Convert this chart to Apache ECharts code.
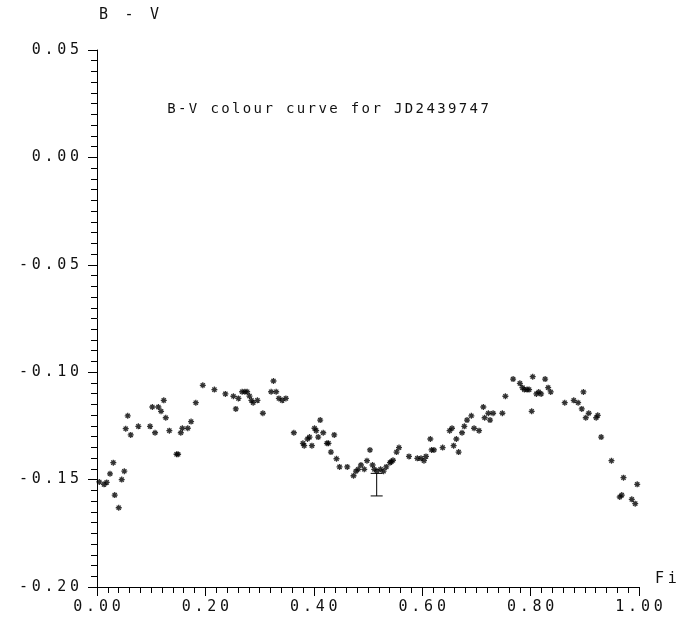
<!DOCTYPE html>
<html>
<head>
<meta charset="utf-8">
<script src="https://cdn.jsdelivr.net/npm/echarts@6/dist/echarts.min.js"></script>
<style>html,body{margin:0;padding:0;background:#fff;}#c{width:696px;height:622px;}</style>
</head>
<body>
<div id="c"></div>
<script>
// ---- data ----
const phase = [
0.0042,0.0129,0.0179,0.0240,0.0301,0.0327,0.0401,0.0456,0.0504,0.0530,0.0567,0.0622,0.0763,0.0979,
0.1021,0.1071,0.1132,0.1182,0.1232,0.1269,0.1335,0.1468,0.1496,0.1546,0.1575,0.1675,0.1736,0.1823,0.1952,
0.2166,0.2369,0.2517,0.2561,0.2609,0.2678,0.2728,0.2770,0.2813,0.2849,0.2881,0.2960,
0.3060,0.3213,0.3256,0.3306,0.3356,0.3416,0.3485,0.3632,0.3799,0.3823,0.3884,0.3921,0.3965,
0.4013,0.4044,0.4081,0.4118,0.4174,0.4242,0.4271,0.4316,0.4377,0.4419,0.4475,0.4617,0.4733,0.4778,0.4820,0.4870,0.4931,0.4981,
0.5036,0.5084,0.5115,0.5165,0.5232,0.5287,0.5337,0.5405,0.5429,0.5461,0.5527,0.5572,0.5756,0.5910,0.5978,
0.6033,0.6070,0.6150,0.6173,0.6218,0.6377,0.6506,0.6550,0.6580,0.6630,0.6672,0.6735,0.6777,0.6827,0.6907,0.6957,
0.7049,0.7128,0.7152,0.7221,0.7252,0.7308,0.7479,0.7535,0.7677,0.7802,0.7849,0.7886,0.7935,0.7972,
0.8020,0.8039,0.8107,0.8150,0.8194,0.8268,0.8324,0.8371,0.8630,0.8796,0.8877,0.8944,0.8975,
0.9018,0.9073,0.9210,0.9239,0.9302,0.9492,0.9645,0.9682,0.9714,0.9867,0.9930,0.9967
];
const bv = [
-0.1511,-0.1522,-0.1513,-0.1473,-0.1421,-0.1572,-0.1631,-0.1500,-0.1461,-0.1263,-0.1203,-0.1292,-0.1252,-0.1252,
-0.1162,-0.1282,-0.1162,-0.1182,-0.1131,-0.1212,-0.1272,-0.1382,-0.1382,-0.1282,-0.1261,-0.1261,-0.1230,-0.1142,-0.1061,
-0.1081,-0.1101,-0.1112,-0.1171,-0.1122,-0.1091,-0.1091,-0.1091,-0.1111,-0.1131,-0.1142,-0.1131,
-0.1191,-0.1091,-0.1041,-0.1091,-0.1122,-0.1131,-0.1122,-0.1282,-0.1331,-0.1342,-0.1311,-0.1302,-0.1342,
-0.1261,-0.1272,-0.1302,-0.1223,-0.1282,-0.1331,-0.1331,-0.1372,-0.1292,-0.1403,-0.1441,-0.1441,-0.1482,-0.1461,-0.1452,-0.1432,-0.1452,-0.1412,
-0.1362,-0.1432,-0.1452,-0.1460,-0.1452,-0.1461,-0.1441,-0.1421,-0.1417,-0.1410,-0.1372,-0.1351,-0.1392,-0.1401,-0.1401,
-0.1412,-0.1392,-0.1311,-0.1362,-0.1362,-0.1351,-0.1272,-0.1261,-0.1342,-0.1311,-0.1372,-0.1282,-0.1252,-0.1223,-0.1203,-0.1261,
-0.1272,-0.1162,-0.1212,-0.1191,-0.1223,-0.1191,-0.1191,-0.1112,-0.1032,-0.1052,-0.1072,-0.1081,-0.1081,-0.1081,
-0.1182,-0.1021,-0.1101,-0.1092,-0.1101,-0.1032,-0.1072,-0.1092,-0.1142,-0.1131,-0.1142,-0.1171,-0.1092,
-0.1212,-0.1191,-0.1212,-0.1201,-0.1302,-0.1412,-0.1581,-0.1572,-0.1491,-0.1592,-0.1612,-0.1522
];
// error bar: [phase, low, high]
const errorBar = [[0.516, -0.1576, -0.1471]];
const xTickLabels = ['0.00','0.20','0.40','0.60','0.80','1.00'];
const yTickLabels = ['-0.20','-0.15','-0.10','-0.05','0.00','0.05'];
const titleText = 'B-V colour curve for JD2439747';
const yName = 'B - V';
const xName = 'Fi';

// ---- helpers ----
const FONT = '"DejaVu Sans Mono", monospace';
function spaced(s, cls) { return s.split('').map(ch => '{' + cls + '|' + ch + '}').join(''); }
const richC = { c: { width: 12.8, align: 'center', fontFamily: FONT, fontSize: 15, fontWeight: 'normal', color: '#111' } };
const richT = { t: { width: 10.8, align: 'center', fontFamily: FONT, fontSize: 14, fontWeight: 'normal', color: '#111' } };

const points = phase.map((p, i) => [p, bv[i]]);
const star = 'path://M5 0L5 10M0 5L10 5M1.5 1.5L8.5 8.5M1.5 8.5L8.5 1.5';

const chart = echarts.init(document.getElementById('c'), null, { renderer: 'canvas' });
chart.setOption({
  animation: false,
  backgroundColor: '#fff',
  title: {
    text: spaced(titleText, 't'),
    left: 161, top: 97,
    textStyle: { rich: richT, fontWeight: 'normal' }
  },
  grid: { left: 97, right: 57, top: 50, bottom: 35, containLabel: false },
  xAxis: {
    type: 'value', min: 0, max: 1, interval: 0.2,
    name: spaced(xName, 'c'), nameLocation: 'end', nameGap: 14,
    nameTextStyle: { rich: richC, verticalAlign: 'bottom', padding: [0, 0, 0, 0] },
    axisLine: { show: true, onZero: false, lineStyle: { color: '#000', width: 1 } },
    axisTick: { show: true, inside: false, length: 9, lineStyle: { color: '#000' } },
    minorTick: { show: true, splitNumber: 10, length: 6, lineStyle: { color: '#000' } },
    splitLine: { show: false },
    axisLabel: {
      margin: 13,
      formatter: v => spaced(xTickLabels[Math.round(v / 0.2)], 'c'),
      rich: richC
    }
  },
  yAxis: {
    type: 'value', min: -0.2, max: 0.05, interval: 0.05,
    name: spaced(yName, 'c'), nameLocation: 'end', nameGap: 27,
    nameTextStyle: { rich: richC, align: 'left' },
    axisLine: { show: true, onZero: false, lineStyle: { color: '#000', width: 1 } },
    axisTick: { show: true, inside: false, length: 9, lineStyle: { color: '#000' } },
    minorTick: { show: true, splitNumber: 10, length: 6, lineStyle: { color: '#000' } },
    splitLine: { show: false },
    axisLabel: {
      margin: 16,
      formatter: v => spaced(yTickLabels[Math.round((v + 0.2) / 0.05)], 'c'),
      rich: richC
    }
  },
  series: [
    {
      type: 'scatter',
      data: points,
      symbol: star,
      symbolSize: 6,
      itemStyle: { color: 'transparent', borderColor: '#000', borderWidth: 1.3 },
      emphasis: { disabled: true },
      silent: true
    },
    {
      type: 'custom',
      data: errorBar,
      silent: true,
      renderItem: function (params, api) {
        const x = api.value(0), lo = api.value(1), hi = api.value(2);
        const pTop = api.coord([x, hi]);
        const pBot = api.coord([x, lo]);
        const hw = 6;
        const st = { stroke: '#000', lineWidth: 1 };
        return {
          type: 'group',
          children: [
            { type: 'line', shape: { x1: pTop[0], y1: pTop[1], x2: pBot[0], y2: pBot[1] }, style: st },
            { type: 'line', shape: { x1: pTop[0] - hw, y1: pTop[1], x2: pTop[0] + hw, y2: pTop[1] }, style: st },
            { type: 'line', shape: { x1: pBot[0] - hw, y1: pBot[1], x2: pBot[0] + hw, y2: pBot[1] }, style: st }
          ]
        };
      }
    }
  ]
});
</script>
</body>
</html>
